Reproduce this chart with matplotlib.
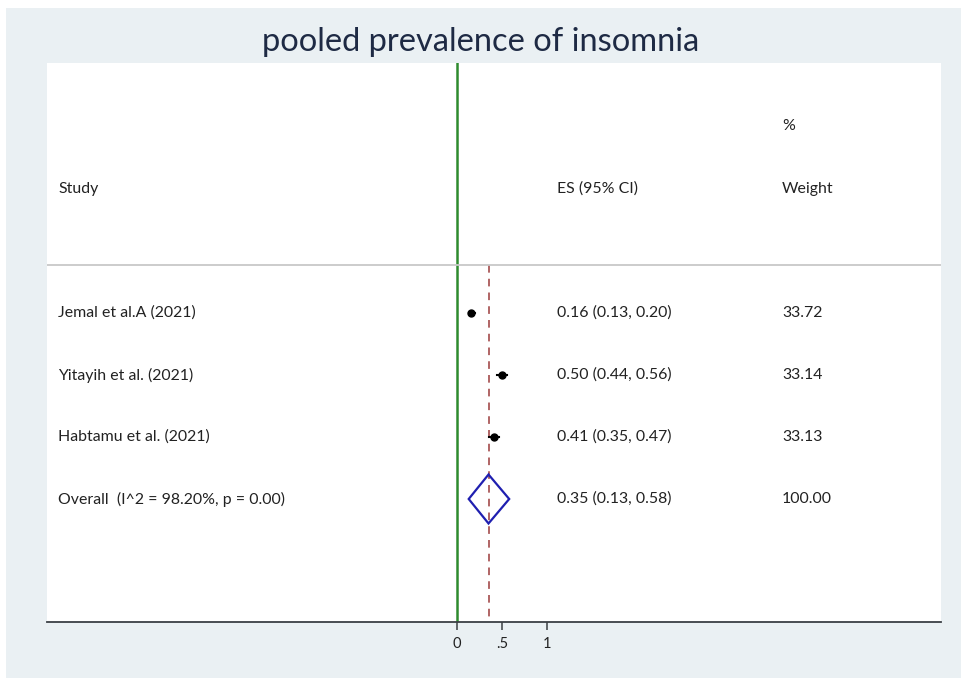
import matplotlib.pyplot as plt
from matplotlib.patches import Polygon, Rectangle

plt.rcParams['font.family'] = ['Lato', 'DejaVu Sans']

# study data
studies = ["Jemal et al.A (2021)", "Yitayih et al. (2021)", "Habtamu et al. (2021)"]
es = [0.16, 0.50, 0.41]
lo = [0.13, 0.44, 0.35]
hi = [0.20, 0.56, 0.47]
weights = ["33.72", "33.14", "33.13"]

overall_label = "Overall  (I^2 = 98.20%, p = 0.00)"
overall_es = 0.35
overall_lo = 0.13
overall_hi = 0.58
overall_weight = "100.00"

xticks = [0, 0.5, 1]
xtick_labels = ["0", ".5", "1"]

txt_col = "#222222"
fs = 11.4

fig = plt.figure(figsize=(9.62, 6.78), dpi=100)
fig.patch.set_facecolor("white")
fig.patches.append(Rectangle((6 / 962, 0), 1, 1 - 8 / 678, transform=fig.transFigure,
                             facecolor="#eaf0f3", edgecolor="none", zorder=-10))

ax = fig.add_axes([47 / 962, 1 - 622 / 678, 894 / 962, 559 / 678])
ax.set_facecolor("white")
ax.set_xlim(-4.556, 5.378)
ax.set_ylim(5.984, -3.032)

for s in ["top", "left", "right"]:
    ax.spines[s].set_visible(False)
ax.spines["bottom"].set_color("#3a3f44")
ax.spines["bottom"].set_linewidth(1.3)
ax.set_yticks([])
ax.set_xticks(xticks)
ax.set_xticklabels(xtick_labels, fontsize=10.5, color=txt_col)
ax.tick_params(axis="x", length=6, width=1.1, color="#3a3f44", pad=5)

# header
ax.axhline(0.226, color="#c8c8c8", lw=1.3)
ax.text(-4.433, -1.0, "Study", fontsize=fs, color=txt_col, va="center")
ax.text(1.111, -1.0, "ES (95% CI)", fontsize=fs, color=txt_col, va="center")
ax.text(3.611, -2.02, "%", fontsize=fs, color=txt_col, va="center")
ax.text(3.611, -1.0, "Weight", fontsize=fs, color=txt_col, va="center")

# reference lines
ax.axvline(0, color="#2e8b2e", lw=1.8, zorder=1)
ax.plot([overall_es, overall_es], [0.226, 5.984], color="#9b3a3a", lw=1.1,
        ls=(0, (5, 4)), zorder=1)

rows = list(range(1, len(studies) + 1))
for y, name, e, l, h, w in zip(rows, studies, es, lo, hi, weights):
    ax.plot([l, h], [y, y], color="black", lw=1.5, zorder=3)
    ax.plot(e, y, marker="o", ms=5, color="black", zorder=4)
    ax.text(-4.433, y, name, fontsize=fs, color=txt_col, va="center")
    ax.text(1.111, y, "%.2f (%.2f, %.2f)" % (e, l, h), fontsize=fs, color=txt_col, va="center")
    ax.text(3.611, y, w, fontsize=fs, color=txt_col, va="center")

yo = len(studies) + 1
diamond = Polygon([(overall_lo, yo), (overall_es, yo - 0.395), (overall_hi, yo),
                   (overall_es, yo + 0.395)], closed=True, fill=False,
                  edgecolor="#1f1fb0", lw=1.6, zorder=3)
ax.add_patch(diamond)
ax.text(-4.433, yo, overall_label, fontsize=fs, color=txt_col, va="center")
ax.text(1.111, yo, "%.2f (%.2f, %.2f)" % (overall_es, overall_lo, overall_hi),
        fontsize=fs, color=txt_col, va="center")
ax.text(3.611, yo, overall_weight, fontsize=fs, color=txt_col, va="center")

fig.text(481 / 962, 1 - 42 / 678, "pooled prevalence of insomnia", fontsize=23.5,
         color="#1e2a44", ha="center", va="center")

fig.savefig("out.png", dpi=100)
